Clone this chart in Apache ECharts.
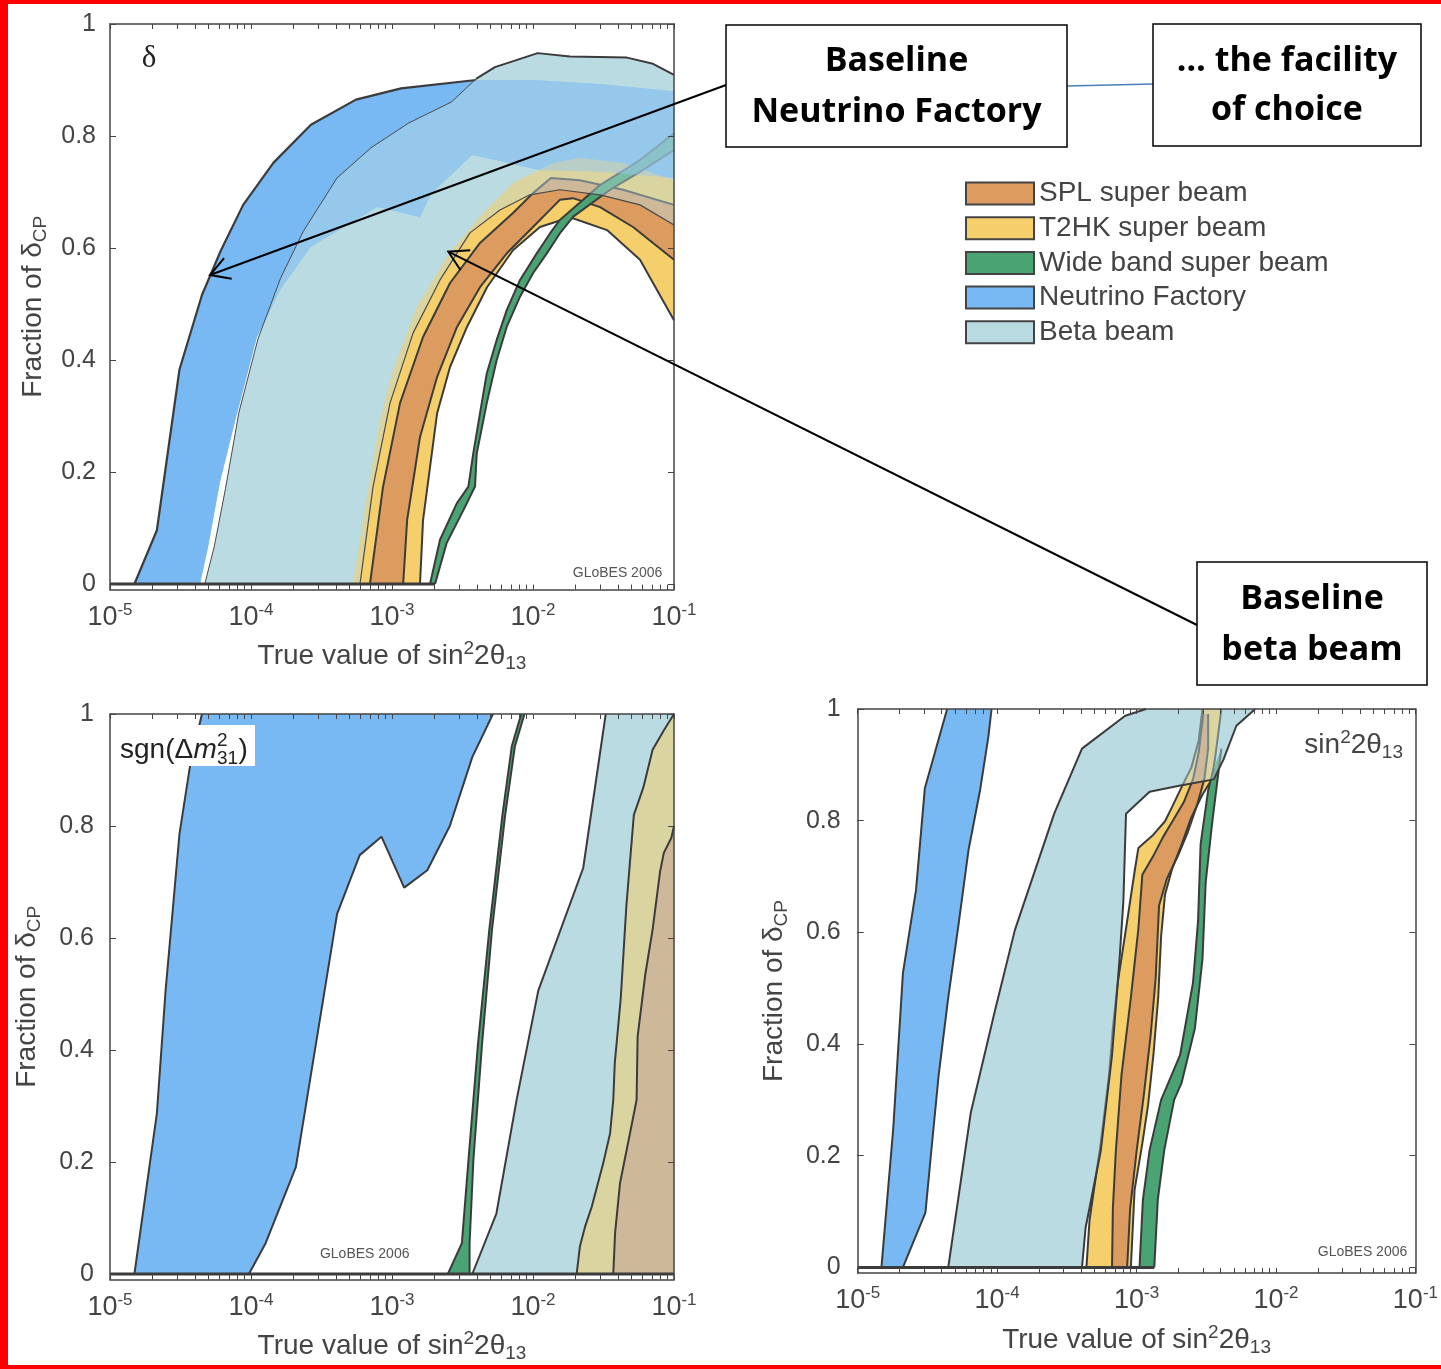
<!DOCTYPE html>
<html><head><meta charset="utf-8">
<script src="https://cdn.jsdelivr.net/npm/echarts@6/dist/echarts.min.js"></script>
<style>html,body{margin:0;padding:0;background:#fff}#c{width:1441px;height:1369px}</style>
</head><body><div id="c"></div><script>
// ---------------- DATA (x = true sin^2 2theta13, y = fraction of deltaCP) ----------------
const LEGEND_NAMES = ['SPL super beam','T2HK super beam','Wide band super beam','Neutrino Factory','Beta beam'];
const X_MAJOR = [1e-5, 1e-4, 1e-3, 1e-2, 1e-1];
const X_MINOR_MULT = [2,3,4,5,6,7,8,9];
const Y_TICKS = [0, 0.2, 0.4, 0.6, 0.8, 1];

// Panel 1: delta
const p1_NF_outer = [[1.49e-5,0],[2.15e-5,0.096],[3.11e-5,0.383],[4.49e-5,0.516],[6.1e-5,0.595],[8.8e-5,0.677],[1.44e-4,0.752],[2.66e-4,0.820],[5.55e-4,0.865],[1.16e-3,0.885],[3.95e-3,0.900],[1e-2,0.900],[3e-2,0.893],[1e-1,0.880]];
const p1_NF_inner = [[4.35e-5,0],[5.0e-5,0.07],[6.0e-5,0.18],[7.7e-5,0.29],[1.1e-4,0.44],[1.62e-4,0.526],[2.65e-4,0.602],[7.9e-4,0.673],[1.58e-3,0.655],[1.89e-3,0.696],[3.7e-3,0.766],[6.1e-3,0.754],[1.12e-2,0.739],[3e-2,0.736],[1e-1,0.725]];
const p1_BB_outer = [[4.7e-5,0],[5.5e-5,0.068],[6.6e-5,0.171],[8.22e-5,0.307],[1.12e-4,0.4375],[1.62e-4,0.546],[2.34e-4,0.629],[4.07e-4,0.725],[7.1e-4,0.779],[1.31e-3,0.823],[2.65e-3,0.861],[3.94e-3,0.902],[5.37e-3,0.923],[1.08e-2,0.948],[1.83e-2,0.942],[4.64e-2,0.940],[7.1e-2,0.929],[1e-1,0.909]];
const p1_BB_inner = [[5.93e-4,0],[7.33e-4,0.173],[9.68e-4,0.323],[1.41e-3,0.448],[2.19e-3,0.543],[3.57e-3,0.627],[5.83e-3,0.668],[9.5e-3,0.695],[1.55e-2,0.704],[2.99e-2,0.695],[5.74e-2,0.677],[1e-1,0.641]];
const p1_T2HK_outer = [[5.28e-4,0],[6.22e-4,0.114],[8.22e-4,0.293],[1.02e-3,0.382],[1.50e-3,0.495],[2.58e-3,0.593],[4.42e-3,0.6625],[7.21e-3,0.716],[1.39e-2,0.752],[2.15e-2,0.761],[4.35e-2,0.752],[1e-1,0.721]];
const p1_T2HK_inner = [[1.58e-3,0],[1.66e-3,0.114],[2.09e-3,0.305],[2.58e-3,0.3875],[3.40e-3,0.459],[4.72e-3,0.530],[7.21e-3,0.596],[1.12e-2,0.6375],[1.83e-2,0.655],[3.35e-2,0.632],[5.74e-2,0.579],[1e-1,0.471]];
const p1_SPL_outer = [[6.98e-4,0],[8.63e-4,0.173],[1.14e-3,0.323],[1.66e-3,0.441],[2.58e-3,0.5375],[4.21e-3,0.609],[7.21e-3,0.6625],[1.0e-2,0.698],[1.34e-2,0.725],[2.15e-2,0.721],[4.35e-2,0.704],[1e-1,0.677]];
const p1_SPL_inner = [[1.20e-3,0],[1.28e-3,0.114],[1.58e-3,0.2625],[2.09e-3,0.370],[2.89e-3,0.459],[4.21e-3,0.530],[6.54e-3,0.591],[1.0e-2,0.6375],[1.55e-2,0.686],[1.92e-2,0.689],[2.99e-2,0.673],[5.12e-2,0.6375],[1e-1,0.579]];
const p1_WBB_outer = [[1.86e-3,0],[2.19e-3,0.079],[2.88e-3,0.144],[3.48e-3,0.174],[3.77e-3,0.233],[4.21e-3,0.305],[4.70e-3,0.376],[5.53e-3,0.436],[6.51e-3,0.489],[8.09e-3,0.543],[1.06e-2,0.590],[1.32e-2,0.626],[1.55e-2,0.65],[2.99e-2,0.7125],[5.74e-2,0.757],[1e-1,0.805]];
const p1_WBB_inner = [[2.02e-3,0],[2.44e-3,0.073],[3.21e-3,0.132],[3.88e-3,0.174],[3.99e-3,0.233],[4.70e-3,0.323],[5.53e-3,0.4],[6.51e-3,0.459],[8.09e-3,0.513],[1.0e-2,0.555],[1.25e-2,0.590],[1.55e-2,0.626],[1.93e-2,0.656],[3.52e-2,0.704],[5.74e-2,0.736],[1e-1,0.775]];
const p1_base = [[1e-5,0],[2.02e-3,0]];

// Panel 2: sgn(dm31^2)
const p2_NF_left = [[1.49e-5,0],[2.15e-5,0.287],[2.48e-5,0.507],[3.11e-5,0.786],[3.74e-5,0.916],[4.49e-5,1]];
const p2_NF_right = [[9.66e-5,0],[1.27e-4,0.055],[2.08e-4,0.191],[4.08e-4,0.643],[5.90e-4,0.748],[8.42e-4,0.781],[1.22e-3,0.690],[1.78e-3,0.721],[2.57e-3,0.800],[3.71e-3,0.923],[5.2e-3,1]];
const p2_WBB_left = [[2.49e-3,0],[3.13e-3,0.055],[3.49e-3,0.205],[4.07e-3,0.41],[4.90e-3,0.615],[6.07e-3,0.820],[7.08e-3,0.943],[8.25e-3,1]];
const p2_WBB_right = [[3.55e-3,0],[3.55e-3,0.055],[3.78e-3,0.205],[4.35e-3,0.41],[5.12e-3,0.615],[6.35e-3,0.820],[7.45e-3,0.943],[8.7e-3,1]];
const p2_BB_left = [[3.71e-3,0],[5.5e-3,0.108],[7.65e-3,0.311],[1.09e-2,0.506],[2.27e-2,0.725],[3.28e-2,1]];
const p2_T2HK_left = [[2.04e-2,0],[2.15e-2,0.049],[2.34e-2,0.0845],[2.61e-2,0.120],[3.15e-2,0.198],[3.52e-2,0.251],[3.71e-2,0.311],[3.8e-2,0.376],[4.19e-2,0.492],[4.59e-2,0.656],[5.19e-2,0.820],[6.05e-2,0.868],[7.05e-2,0.936],[8.48e-2,0.971],[1e-1,1]];
const p2_SPL_left = [[3.71e-2,0],[3.82e-2,0.073],[4.14e-2,0.162],[4.87e-2,0.251],[5.43e-2,0.311],[5.52e-2,0.424],[6.24e-2,0.533],[7.05e-2,0.615],[7.96e-2,0.718],[8.47e-2,0.752],[9.58e-2,0.779],[1e-1,0.80]];
const p2_corner_top = [[1e-1,1]];
const p2_corner_bottom = [[1e-1,0]];
const p2_base = [[1e-5,0],[1e-1,0]];

// Panel 3: sin^2 2theta13
const p3_NF_left = [[1.48e-5,0],[1.8e-5,0.25],[2.11e-5,0.527],[2.62e-5,0.676],[3.03e-5,0.858],[3.25e-5,0.885],[4.38e-5,1]];
const p3_NF_right = [[2.11e-5,0],[3.06e-5,0.098],[3.37e-5,0.208],[3.81e-5,0.345],[4.46e-5,0.483],[5.3e-5,0.616],[6.24e-5,0.748],[7.55e-5,0.855],[8.65e-5,0.95],[9.12e-5,1]];
const p3_BB_outer = [[4.46e-5,0],[6.47e-5,0.277],[9.69e-5,0.462],[1.34e-4,0.604],[2.57e-4,0.813],[4.06e-4,0.929],[8.29e-4,0.988],[1.17e-3,1]];
const p3_BB_inner = [[4.06e-4,0],[4.31e-4,0.071],[5.53e-4,0.208],[6.67e-4,0.380],[7.55e-4,0.552],[8.04e-4,0.655],[8.4e-4,0.8125],[1.24e-3,0.852],[1.98e-3,0.862],[3.58e-3,0.874],[4.19e-3,0.909],[5.2e-3,0.970],[7.1e-3,1]];
const p3_T2HK_outer = [[4.37e-4,0],[4.60e-4,0.0845],[5.53e-4,0.222],[6.35e-4,0.345],[6.76e-4,0.428],[7.33e-4,0.510],[8.56e-4,0.620],[9.68e-4,0.709],[1.03e-3,0.751],[1.32e-3,0.775],[1.60e-3,0.799],[1.81e-3,0.826],[2.11e-3,0.861],[2.47e-3,0.895],[2.79e-3,0.943],[2.97e-3,1]];
const p3_T2HK_inner = [[9.1e-4,0],[9.68e-4,0.139],[1.10e-3,0.222],[1.21e-3,0.291],[1.32e-3,0.380],[1.43e-3,0.483],[1.50e-3,0.593],[1.60e-3,0.668],[1.81e-3,0.716],[2.11e-3,0.758],[2.47e-3,0.806],[2.97e-3,0.847],[3.47e-3,0.874],[3.70e-3,0.922],[4.06e-3,1]];
const p3_SPL_outer = [[6.67e-4,0],[6.76e-4,0.105],[7.10e-4,0.208],[7.80e-4,0.345],[9.1e-4,0.483],[1.03e-3,0.606],[1.10e-3,0.703],[1.32e-3,0.737],[1.55e-3,0.771],[1.81e-3,0.799],[2.18e-3,0.833],[2.54e-3,0.874],[2.79e-3,0.922],[3.01e-3,0.991]];
const p3_SPL_inner = [[8.56e-4,0],[8.99e-4,0.105],[1.0e-3,0.208],[1.13e-3,0.311],[1.26e-3,0.414],[1.37e-3,0.517],[1.45e-3,0.648],[1.65e-3,0.696],[1.98e-3,0.737],[2.32e-3,0.778],[2.70e-3,0.826],[3.06e-3,0.874],[3.26e-3,0.929],[3.26e-3,0.991]];
const p3_WBB_outer = [[1.05e-3,0],[1.11e-3,0.121],[1.24e-3,0.210],[1.50e-3,0.300],[2.05e-3,0.380],[2.54e-3,0.510],[2.76e-3,0.620],[2.88e-3,0.758],[3.26e-3,0.854],[3.58e-3,0.895]];
const p3_WBB_inner = [[1.34e-3,0],[1.42e-3,0.121],[1.58e-3,0.210],[1.86e-3,0.300],[2.1e-3,0.33],[2.62e-3,0.428],[2.97e-3,0.552],[3.13e-3,0.689],[3.47e-3,0.792],[3.81e-3,0.874],[4.06e-3,0.929]];
const p3_base = [[1e-5,0],[1.34e-3,0]];

// ---------------- STYLE / LAYOUT ----------------
const FONT = '"Liberation Sans", Arial, Helvetica, sans-serif';
const TXT = '#444';
const COL = {SPL:'#dc9c60', T2HK:'#f4cf6b', WBB:'#4aa373', NF:'#78b9f3', BB:'#bbdbe2'};
const NF_OVER = 'rgba(120,185,243,0.5)';
const BB_OVER = 'rgba(187,219,226,0.45)';
const LINE = '#3b3b3b';
const GRID_BOXES = [
  {left:110, top:24, width:564, height:565.6},
  {left:110, top:714, width:564, height:565.6},
  {left:857.7, top:709, width:565, height:564}
];
const Y_NAME_GAP = [60, 66, 66];
const Y_LABEL_MARGIN = [14, 16, 17];

const xTicks = X_MAJOR.concat(...X_MAJOR.slice(0, 4).map(d => X_MINOR_MULT.map(m => m * d)));
const richSS = {
  sup:{fontSize:19, lineHeight:19, verticalAlign:'top', fontFamily:FONT, color:TXT},
  sub:{fontSize:19, lineHeight:19, verticalAlign:'bottom', fontFamily:FONT, color:TXT}
};

function mkX(g, pos) {
  const main = pos === 'bottom';
  return {
    type:'log', logBase:10, gridIndex:g, min:1e-5, max:1e-1, position:pos, z:10,
    axisLine:{show:true, onZero:false, lineStyle:{color:'#444', width:1.5}},
    axisTick:{show:true, inside:true, length:5, customValues:xTicks, lineStyle:{color:'#444', width:1}},
    axisLabel:{show:main, customValues:X_MAJOR, margin:12, color:TXT, fontSize:27, fontFamily:FONT, lineHeight:32,
      formatter:v => '10{sup|' + Math.round(Math.log10(v)) + '}',
      rich:{sup:{fontSize:17, lineHeight:17, verticalAlign:'top', fontFamily:FONT, color:TXT}}},
    splitLine:{show:false}, minorTick:{show:false}, minorSplitLine:{show:false},
    name: main ? 'True value of sin{sup|2}2θ{sub|13}' : '', nameLocation:'middle', nameGap:50,
    nameTextStyle:{fontSize:28, fontFamily:FONT, color:TXT, lineHeight:34, rich:richSS}
  };
}
function mkY(g, pos) {
  const main = pos === 'left';
  return {
    type:'value', gridIndex:g, min:-0.01, max:1, position:pos, z:10,
    axisLine:{show:true, onZero:false, lineStyle:{color:'#444', width:1.5}},
    axisTick:{show:true, inside:true, length:6, customValues:Y_TICKS, lineStyle:{color:'#444', width:1}},
    axisLabel:{show:main, customValues:Y_TICKS, margin:Y_LABEL_MARGIN[g], color:TXT, fontSize:25, fontFamily:FONT,
      formatter:v => String(Math.round(v * 10) / 10)},
    splitLine:{show:false},
    name: main ? 'Fraction of δ{sub|CP}' : '', nameLocation:'middle', nameGap:Y_NAME_GAP[g],
    nameTextStyle:{fontSize:28, fontFamily:FONT, color:TXT, lineHeight:34, rich:richSS}
  };
}
const xAxes = [], yAxes = [];
GRID_BOXES.forEach((b, g) => { xAxes.push(mkX(g,'bottom'), mkX(g,'top')); yAxes.push(mkY(g,'left'), mkY(g,'right')); });

const series = [];
function fill(g, outer, inner, color, z, name) {
  const pts = outer.concat(inner.slice().reverse());
  series.push({
    type:'custom', name:name || ('_f' + series.length), xAxisIndex:2*g, yAxisIndex:2*g, z:z, silent:true, clip:true,
    data:pts, itemStyle:{color:color},
    renderItem:function(params, api) {
      if (params.dataIndexInside !== 0) return null;
      const p = [];
      for (let i = 0; i < params.dataInsideLength; i++) p.push(api.coord([api.value(0, i), api.value(1, i)]));
      return {type:'polygon', shape:{points:p}, style:{fill:color}};
    }
  });
}
function stroke(g, curve, width, z, color) {
  series.push({type:'line', name:'_s' + series.length, xAxisIndex:2*g, yAxisIndex:2*g, data:curve, z:z, silent:true,
    symbol:'none', showSymbol:false, lineStyle:{color:color || LINE, width:width}, emphasis:{disabled:true}});
}

// Panel 1 layers
fill(0, p1_BB_outer, p1_BB_inner, COL.BB, 1, 'Beta beam');
fill(0, p1_NF_outer, p1_NF_inner, COL.NF, 1, 'Neutrino Factory');
fill(0, p1_T2HK_outer, p1_T2HK_inner, COL.T2HK, 2, 'T2HK super beam');
stroke(0, p1_T2HK_inner, 2, 2);
fill(0, p1_SPL_outer, p1_SPL_inner, COL.SPL, 2, 'SPL super beam');
stroke(0, p1_SPL_outer, 2, 2); stroke(0, p1_SPL_inner, 2, 2);
fill(0, p1_WBB_outer, p1_WBB_inner, COL.WBB, 3, 'Wide band super beam');
stroke(0, p1_WBB_outer, 2, 3); stroke(0, p1_WBB_inner, 2, 3);
fill(0, p1_NF_outer, p1_NF_inner, NF_OVER, 4);
stroke(0, p1_NF_outer.slice(0, 11), 2.2, 4);
fill(0, p1_BB_outer, p1_BB_inner, BB_OVER, 5);
stroke(0, p1_BB_outer.slice(0, 12), 1, 5, '#4a4a4a');
stroke(0, p1_BB_outer.slice(11), 2, 5);
stroke(0, p1_BB_inner, 1.2, 5, '#4a4a4a');
stroke(0, p1_base, 3, 6);

// Panel 2 layers
fill(1, p2_BB_left.concat(p2_corner_top), p2_corner_bottom, COL.BB, 1, 'Beta beam');
fill(1, p2_NF_left, p2_NF_right, COL.NF, 2, 'Neutrino Factory');
stroke(1, p2_NF_left, 2, 2); stroke(1, p2_NF_right, 2, 2);
fill(1, p2_T2HK_left.concat(p2_corner_top), p2_corner_bottom, COL.T2HK, 2, 'T2HK super beam');
fill(1, p2_SPL_left, p2_corner_bottom, COL.SPL, 2, 'SPL super beam');
fill(1, p2_WBB_left, p2_WBB_right, COL.WBB, 3, 'Wide band super beam');
stroke(1, p2_WBB_left, 2, 3); stroke(1, p2_WBB_right, 2, 3);
fill(1, p2_BB_left.concat(p2_corner_top), p2_corner_bottom, BB_OVER, 5);
stroke(1, p2_BB_left, 2, 6); stroke(1, p2_T2HK_left, 2, 6); stroke(1, p2_SPL_left, 2, 6);
stroke(1, p2_base, 3, 6);

// Panel 3 layers
fill(2, p3_BB_outer, p3_BB_inner, COL.BB, 1, 'Beta beam');
fill(2, p3_NF_left, p3_NF_right, COL.NF, 2, 'Neutrino Factory');
stroke(2, p3_NF_left, 2, 2); stroke(2, p3_NF_right, 2, 2);
fill(2, p3_T2HK_outer, p3_T2HK_inner, COL.T2HK, 2, 'T2HK super beam');
stroke(2, p3_T2HK_outer, 2, 2); stroke(2, p3_T2HK_inner, 2, 2);
fill(2, p3_SPL_outer, p3_SPL_inner, COL.SPL, 2, 'SPL super beam');
stroke(2, p3_SPL_outer, 2, 2); stroke(2, p3_SPL_inner, 2, 2);
fill(2, p3_WBB_outer, p3_WBB_inner, COL.WBB, 3, 'Wide band super beam');
stroke(2, p3_WBB_outer, 2, 3); stroke(2, p3_WBB_inner, 2, 3);
fill(2, p3_BB_outer, p3_BB_inner, BB_OVER, 5);
stroke(2, p3_BB_outer, 2, 5); stroke(2, p3_BB_inner, 2, 5);
stroke(2, p3_base, 3, 6);

// ---------------- ANNOTATIONS ----------------
const BOLD = 'bold 34px "Open Sans", "Noto Sans", sans-serif';
function arrow(x1, y1, x2, y2) {
  const dx = x1 - x2, dy = y1 - y2, L = Math.hypot(dx, dy), ux = dx / L, uy = dy / L, h = 22, c = Math.cos(Math.PI/6), s = Math.sin(Math.PI/6);
  const w1 = [x2 + h * (c*ux - s*uy), y2 + h * (s*ux + c*uy)];
  const w2 = [x2 + h * (c*ux + s*uy), y2 + h * (-s*ux + c*uy)];
  return [
    {type:'line', z:100, shape:{x1:x1, y1:y1, x2:x2, y2:y2}, style:{stroke:'#000', lineWidth:2}},
    {type:'polyline', z:100, shape:{points:[w1, [x2, y2], w2]}, style:{stroke:'#000', lineWidth:2, fill:null}}
  ];
}
function box(x, y, w, h, lines, cx, ys) {
  const els = [{type:'rect', z:100, shape:{x:x, y:y, width:w, height:h}, style:{fill:'#fff', stroke:'#000', lineWidth:1.5}}];
  lines.forEach((t, i) => els.push({type:'text', z:101, x:cx, y:ys[i], style:{text:t, font:BOLD, fill:'#000', align:'center', verticalAlign:'middle'}}));
  return els;
}
function txt(x, y, t, font, fill, align) {
  return {type:'text', z:101, x:x, y:y, style:{text:t, font:font, fill:fill || TXT, align:align || 'left', verticalAlign:'middle'}};
}
const F28 = '28px ' + FONT, F19 = '19px ' + FONT, F14 = '14px ' + FONT;
const graphic = [
  {type:'rect', z:120, shape:{x:0, y:0, width:8, height:1369}, style:{fill:'#ff0000'}},
  {type:'rect', z:120, shape:{x:0, y:0, width:1441, height:4}, style:{fill:'#ff0000'}},
  {type:'rect', z:120, shape:{x:0, y:1365, width:1441, height:4}, style:{fill:'#ff0000'}},
  txt(149, 59, 'δ', '31px "Liberation Serif", "DejaVu Serif", serif', '#222', 'center'),
  {type:'rect', z:100, shape:{x:118, y:725, width:137, height:41}, style:{fill:'#fff'}},
  txt(120, 750, 'sgn(Δ', F28, '#222'),
  txt(193.5, 750, 'm', 'italic ' + F28, '#222'),
  txt(217, 741, '2', F19, '#222'),
  txt(217, 759, '31', F19, '#222'),
  txt(238.5, 750, ')', F28, '#222'),
  {type:'text', z:101, x:1403, y:745, style:{text:'{n|sin}{sup|2}{n|2θ}{sub|13}', align:'right', verticalAlign:'middle',
    rich:{n:{font:F28, fill:TXT, lineHeight:34}, sup:{font:F19, fill:TXT, lineHeight:19, verticalAlign:'top'}, sub:{font:F19, fill:TXT, lineHeight:19, verticalAlign:'bottom'}}}},
  txt(617.5, 573, 'GLoBES 2006', F14, '#555', 'center'),
  txt(364.7, 1254, 'GLoBES 2006', F14, '#555', 'center'),
  txt(1362.5, 1252, 'GLoBES 2006', F14, '#555', 'center'),
  {type:'line', z:100, shape:{x1:1067, y1:86, x2:1153, y2:84}, style:{stroke:'#4a7dbb', lineWidth:1.5}},
  ...arrow(726, 85, 210, 275),
  ...arrow(1197, 625, 448.3, 251.7),
  ...box(726, 25, 341, 122, ['Baseline', 'Neutrino Factory'], 896.5, [61, 112]),
  ...box(1153, 24, 268, 122, ['… the facility', 'of choice'], 1287, [61, 110]),
  ...box(1197, 562, 230, 123, ['Baseline', 'beta beam'], 1312, [599, 650])
];

const legendColors = [COL.SPL, COL.T2HK, COL.WBB, COL.NF, COL.BB];
const chart = echarts.init(document.getElementById('c'), null, {width:1441, height:1369});
chart.setOption({
  animation:false,
  backgroundColor:'#fff',
  grid:GRID_BOXES.map(b => Object.assign({show:false, containLabel:false}, b)),
  xAxis:xAxes, yAxis:yAxes,
  legend:{orient:'vertical', left:965, top:179.5, padding:0, itemWidth:68, itemHeight:22, itemGap:6.7, icon:'rect', selectedMode:false,
    textStyle:{fontSize:28, color:TXT, fontFamily:FONT, lineHeight:22},
    data:LEGEND_NAMES.map((n, i) => ({name:n, icon:'rect', itemStyle:{color:legendColors[i], borderColor:'#444', borderWidth:2}}))},
  series:series,
  graphic:graphic
});
</script></body></html>
